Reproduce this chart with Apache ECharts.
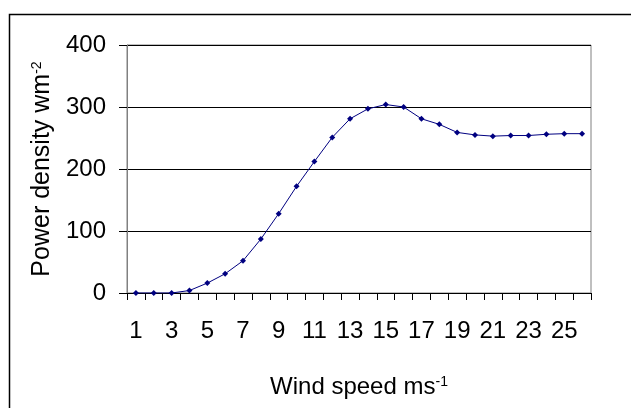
<!DOCTYPE html>
<html><head><meta charset="utf-8">
<script src="https://cdn.jsdelivr.net/npm/echarts@6/dist/echarts.min.js"></script>
<style>html,body{margin:0;padding:0;background:#fff}#c{width:631px;height:408px}</style>
</head><body><div id="c"></div>
<script>
const categories = ['1','2','3','4','5','6','7','8','9','10','11','12','13','14','15','16','17','18','19','20','21','22','23','24','25','26'];
const powerDensity = [0,0,0,4,16,31,52,87,128,172,212,251,281,297,304,300,281,272,259,255,253,254,254,256,257,257];
const yTicks = [0,100,200,300,400];
const FONT = '"Liberation Sans",Arial,sans-serif';
const chart = echarts.init(document.getElementById('c'), null, {renderer:'canvas'});
chart.setOption({
  animation:false,
  backgroundColor:'#fff',
  graphic:[{type:'rect',left:7,top:12,shape:{width:700,height:500},style:{fill:'none',stroke:'#000',lineWidth:1.5},z:-1}],
  grid:{left:127,right:40,top:45,bottom:115,show:true,borderColor:'#808080',borderWidth:1},
  xAxis:{type:'category',data:categories,boundaryGap:true,
    axisLine:{lineStyle:{color:'#000',width:1}},
    axisTick:{show:true,interval:0,length:7,lineStyle:{color:'#000'}},
    axisLabel:{interval:1,color:'#000',fontFamily:FONT,fontSize:24,margin:26},
    name:'Wind speed ms{sup|-1}',nameLocation:'middle',nameGap:82,
    nameTextStyle:{color:'#000',fontFamily:FONT,fontSize:24,rich:{sup:{fontFamily:FONT,fontSize:14,verticalAlign:'top',padding:[0,0,10,0]}}}
  },
  yAxis:{type:'value',min:yTicks[0],max:yTicks[yTicks.length-1],interval:100,
    axisLine:{show:true,lineStyle:{color:'#808080',width:1}},
    axisTick:{show:true,length:8,lineStyle:{color:'#000'}},
    axisLabel:{color:'#000',fontFamily:FONT,fontSize:24,margin:21},
    splitLine:{show:true,lineStyle:{color:'#000',width:1}},
    name:'Power density wm{sup|-2}',nameLocation:'middle',nameRotate:90,nameGap:70,
    nameTextStyle:{color:'#000',fontFamily:FONT,fontSize:25,rich:{sup:{fontFamily:FONT,fontSize:14,verticalAlign:'top',padding:[0,0,10,0]}}}
  },
  series:[{type:'line',data:powerDensity,symbol:'diamond',symbolSize:6,
    lineStyle:{color:'#000080',width:1},itemStyle:{color:'#000080'}}]
});
</script></body></html>
